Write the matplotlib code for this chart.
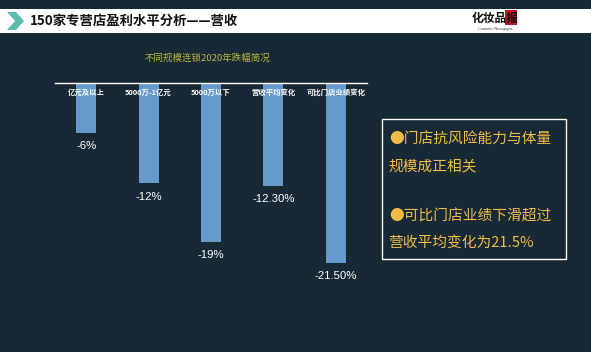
import matplotlib
matplotlib.use("Agg")
import matplotlib.pyplot as plt
from matplotlib.patches import Polygon, Rectangle

plt.rcParams['font.family'] = ['Noto Sans CJK SC', 'DejaVu Sans']

BG = "#172935"
BAR = "#6699cc"
GOLD = "#f0bc45"

categories = ["亿元及以上", "5000万-1亿元", "5000万以下", "营收平均变化", "可比门店业绩变化"]
values = [-6, -12, -19, -12.3, -21.5]
value_labels = ["-6%", "-12%", "-19%", "-12.30%", "-21.50%"]

W, H = 591, 352
fig = plt.figure(figsize=(W / 100, H / 100), dpi=100, facecolor=BG)

# header band
fig.patches.append(Rectangle((0, 1 - 33 / H), 1, 24 / H, transform=fig.transFigure,
                             facecolor="white", edgecolor="none"))
chev = [(7, 12), (16, 12), (24, 21), (16, 30), (7, 30), (15, 21)]
fig.patches.append(Polygon([(x / W, 1 - y / H) for x, y in chev], closed=True,
                           transform=fig.transFigure, facecolor="#5bbcb0", edgecolor="none"))
fig.text(30 / W, 1 - 21 / H, "150家专营店盈利水平分析——营收", fontsize=9.6,
         fontweight="bold", color="#111111", va="center", ha="left")

# logo
fig.patches.append(Rectangle((505 / W, 1 - 25 / H), 12 / W, 15 / H, transform=fig.transFigure,
                             facecolor="#b81c24", edgecolor="none"))
fig.text(495 / W, 1 - 18 / H, "化妆品报", fontsize=8.5, fontweight="bold",
         color="#111111", ha="center", va="center")
fig.text(495 / W, 1 - 29 / H, "Cosmetic Newspaper", fontsize=3, family="Liberation Serif",
         color="#333333", ha="center", va="center")

# bar chart
ax = fig.add_axes([55 / W, (H - 83 - 209) / H, 312 / W, 209 / H])
ax.set_facecolor(BG)
x = list(range(len(categories)))
ax.bar(x, values, width=0.32, color=BAR, zorder=2)
ax.set_xlim(-0.5, len(categories) - 0.5)
ax.set_ylim(-25, 0)
for s in ["left", "right", "bottom"]:
    ax.spines[s].set_visible(False)
ax.spines["top"].set_color("white")
ax.spines["top"].set_linewidth(1)
ax.spines["top"].set_zorder(3)
ax.set_xticks([])
ax.set_yticks([])
for i, (v, lab) in enumerate(zip(values, value_labels)):
    ax.annotate(lab, (i, v), xytext=(0, -9.5), textcoords="offset points",
                ha="center", va="center", color="white", fontsize=8.2,
                family="Liberation Sans")
    ax.annotate(categories[i], (i, 0), xytext=(0, -6.5), textcoords="offset points",
                ha="center", va="center", color="white", fontsize=5.3,
                fontweight="bold", zorder=4)

fig.text(207 / W, 1 - 58 / H, "不同规模连锁2020年跌幅简况", fontsize=6.8,
         color="#bcb63e", ha="center", va="center")

# text box
fig.patches.append(Rectangle((382 / W, 1 - 259 / H), 184 / W, 140 / H, transform=fig.transFigure,
                             facecolor="none", edgecolor="white", linewidth=1))
lines = [("●门店抗风险能力与体量", 389, 139), ("规模成正相关", 388, 166),
         ("●可比门店业绩下滑超过", 389, 217), ("营收平均变化为21.5%", 388, 243)]
for t, lx, ly in lines:
    fig.text(lx / W, 1 - ly / H, t, fontsize=10.6, color=GOLD, ha="left", va="center")

fig.savefig("out.png", dpi=100, facecolor=BG)
